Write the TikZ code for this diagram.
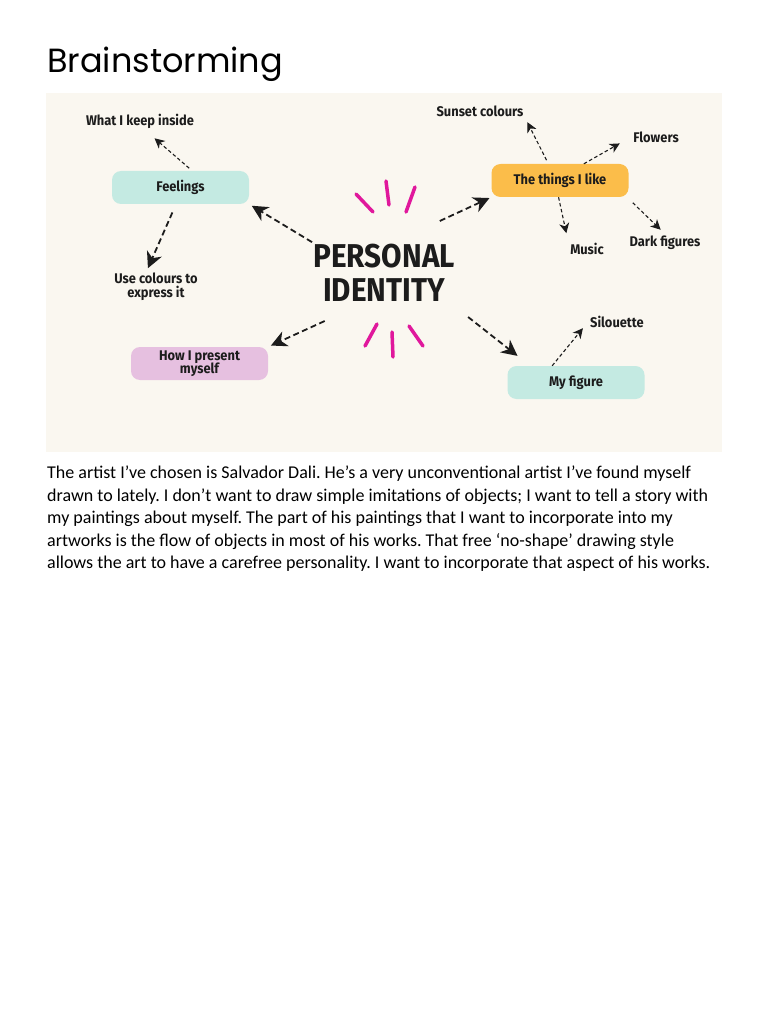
\documentclass[tikz,border=0pt]{standalone}
\usepackage{fontspec}
\setmainfont{Carlito}
\newfontfamily\titlefont{Poppins}
\newfontfamily\labelfont{Fira Sans}[FakeStretch=0.92]
\newfontfamily\idfont{Fira Sans}[FakeStretch=0.9]
\usetikzlibrary{arrows.meta}

\definecolor{paper}{HTML}{FAF7F0}
\definecolor{mint}{HTML}{C4EAE2}
\definecolor{sunny}{HTML}{FBBD4A}
\definecolor{lilac}{HTML}{E6C0E0}
\definecolor{sparkpink}{HTML}{E0189C}
\definecolor{ink}{HTML}{1C1C1C}

\tikzset{
  topic/.style={rounded corners=9pt, minimum width=137pt, minimum height=33pt,
    inner sep=0pt, text=ink, align=center,
    font=\labelfont\bfseries\fontsize{14}{14}\selectfont},
  leaf/.style={text=ink, align=center, inner sep=2pt,
    font=\labelfont\bfseries\fontsize{14}{15}\selectfont},
  bigarr/.style={ink, line width=1.8pt, dash pattern=on 6pt off 3.5pt,
    -{Stealth[length=16pt,width=16pt,inset=5pt]}},
  smallarr/.style={ink, line width=1.1pt, dash pattern=on 3.5pt off 2.5pt,
    -{Stealth[length=10pt,width=10pt,inset=3pt]}},
  spark/.style={sparkpink, line width=3.5pt, line cap=round}
}

\begin{document}
\frenchspacing
\begin{tikzpicture}[x=1pt, y=-1pt]
  \useasboundingbox (0,0) rectangle (768,1024);

  % --- Title ---
  \node[anchor=base west, inner sep=0pt, font=\titlefont\fontsize{33.5}{38}\selectfont]
    (title) at (47,73) {Brainstorming};

  % --- Panel ---
  \fill[paper] (46,93) rectangle (722,452);

  % --- Centre ---
  \node[circle, inner sep=0pt, text=ink, align=center,
    font=\idfont\bfseries\fontsize{33}{34}\selectfont]
    (pid) at (384,273) {PERSONAL\\IDENTITY};

  % --- Topics ---
  \node[topic, fill=mint]  (feel)    at (180.5,187.5) {Feelings};
  \node[topic, fill=lilac] (present) at (199.5,363.5) {How I present\\[-1pt]myself};
  \node[topic, fill=sunny] (things)  at (560,180.5)   {The things I like};
  \node[topic, fill=mint]  (myfig)   at (576,382.5)   {My figure};

  % --- Leaves ---
  \node[leaf] (keep)   at (140,121) {What I keep inside};
  \node[leaf] (use)    at (156,287) {Use colours to\\[-1pt]express it};
  \node[leaf] (sunset) at (480,111) {Sunset colours};
  \node[leaf] (flower) at (656,137) {Flowers};
  \node[leaf] (music)  at (587,249) {Music};
  \node[leaf] (dark)   at (665,243) {Dark figures};
  \node[leaf] (silo)   at (617,322) {Silouette};

  % --- Arrows from the centre ---
  \draw[bigarr, shorten <=2pt, shorten >=3pt] (pid.157) -- (feel.south east);
  \draw[bigarr, shorten >=2pt] (pid.43) -- (things.south west);
  \draw[bigarr, shorten >=3pt] (pid.219) -- (present.north east);
  \draw[bigarr, shorten <=19pt, shorten >=16pt] (pid.-25) -- (myfig.160);

  % --- Arrows from the topics ---
  \draw[smallarr, shorten <=4pt, shorten >=12pt] (feel.55) -- (keep.-60);
  \draw[bigarr, shorten <=9pt, shorten >=3pt] (feel.-105) -- (use.120);
  \draw[smallarr, shorten <=4pt, shorten >=4pt] (things.125) -- (sunset.south east);
  \draw[smallarr, shorten >=13pt] (things.35) -- (flower.west);
  \draw[smallarr, shorten >=8pt] (things.-95) -- (music.north west);
  \draw[smallarr, shorten <=8pt, shorten >=6pt] (things.-14) -- (dark.north);
  \draw[smallarr, shorten >=8pt] (myfig.145) -- (silo.west);

  % --- Sparks ---
  \foreach \xa/\ya/\xb/\yb in {356/194/373/212, 386/181/389/205, 415/187/406/212,
                               377/324/365/346, 392/332/393/357, 409/326/423/346}
    \draw[spark] (\xa,\ya) -- (\xb,\yb);

  % --- Text ---
  \node[anchor=north west, inner sep=0pt, align=left, text=black,
    font=\fontsize{18}{22.4}\selectfont] (story) at (47,466)
    {The artist I’ve chosen is Salvador Dali. He’s a very unconventional artist I’ve found myself\\
     drawn to lately. I don’t want to draw simple imitations of objects; I want to tell a story with\\
     my paintings about myself. The part of his paintings that I want to incorporate into my\\
     artworks is the flow of objects in most of his works. That free ‘no-shape’ drawing style\\
     allows the art to have a carefree personality. I want to incorporate that aspect of his works.};
\end{tikzpicture}
\end{document}
